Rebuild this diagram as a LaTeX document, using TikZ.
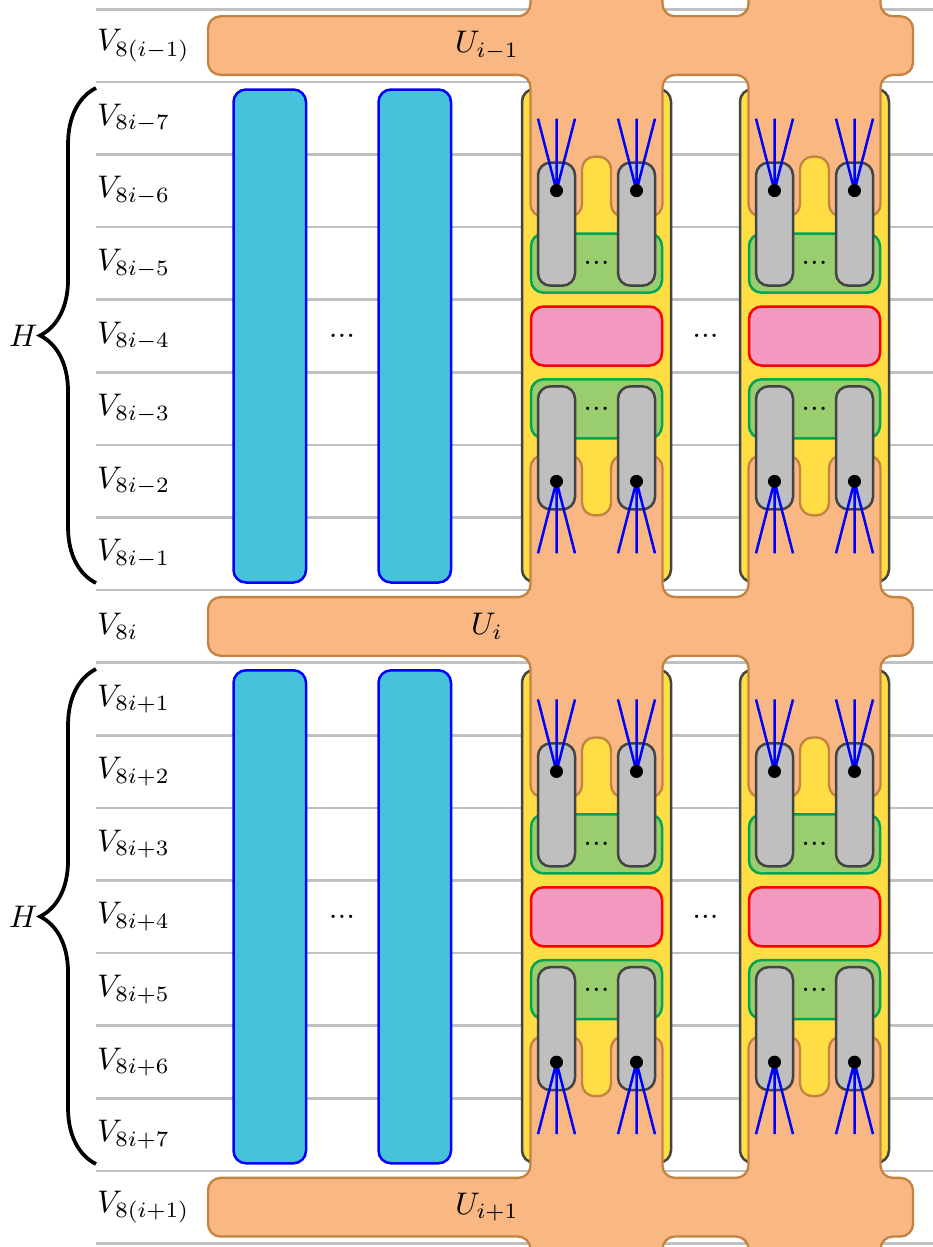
\documentclass[tikz,border=0pt]{standalone}
\usetikzlibrary{decorations.pathreplacing}
\definecolor{orfill}{HTML}{F9B784}
\definecolor{ordraw}{HTML}{C4843F}
\definecolor{yelfill}{HTML}{FFDD44}
\definecolor{dkgray}{HTML}{444444}
\definecolor{pillfill}{HTML}{BFBFBF}
\definecolor{grfill}{HTML}{9ACD6E}
\definecolor{grdraw}{HTML}{00A651}
\definecolor{pkfill}{HTML}{F49AC1}
\definecolor{cyanfill}{HTML}{46C2DC}
\definecolor{linegray}{HTML}{C0C0C0}
% orange column going up from a bar (gadget centre x, bar top y, finger top y)
\newcommand\colsUp[3]{-- ({#1-66},#2) -- ({#1-66},#3) -- ({#1-14.5},#3) -- ({#1-14.5},{#3+60}) -- ({#1+14.5},{#3+60}) -- ({#1+14.5},#3) -- ({#1+66},#3) -- ({#1+66},#2)}
% orange column going down from a bar (gadget centre x, bar bottom y, finger bottom y), traversed right to left
\newcommand\colsDown[3]{-- ({#1+66},#2) -- ({#1+66},#3) -- ({#1+14.5},#3) -- ({#1+14.5},{#3-60}) -- ({#1-14.5},{#3-60}) -- ({#1-14.5},#3) -- ({#1-66},#3) -- ({#1-66},#2)}
\newcommand\colsTop[2]{-- ({#1-66},#2) -- ({#1-66},-40) -- ({#1+66},-40) -- ({#1+66},#2)}
\newcommand\colsBot[2]{-- ({#1+66},#2) -- ({#1+66},1290) -- ({#1-66},1290) -- ({#1-66},#2)}
% inside of a gadget: x centre, y centre of block, name suffix
\newcommand\gadgetinner[3]{%
  \draw[grnbox] ({#1-65.5},{#2-102.35}) rectangle ({#1+65.5},{#2-43.35});
  \draw[grnbox] ({#1-65.5},{#2+43.35}) rectangle ({#1+65.5},{#2+102.35});
  \draw[pnkbox] ({#1-65.5},{#2-29.5}) rectangle ({#1+65.5},{#2+29.5});
  \node[dotlbl] (gu#3) at (#1,{#2-72.85}) {...};
  \node[dotlbl] (gl#3) at (#1,{#2+72.85}) {...};
  \foreach \dx in {-40,40} {
    \draw[pillbox] ({#1+\dx-18.5},{#2-173.35}) rectangle ({#1+\dx+18.5},{#2-50.35});
    \draw[pillbox] ({#1+\dx-18.5},{#2+50.35}) rectangle ({#1+\dx+18.5},{#2+173.35});
    \draw[fanline] ({#1+\dx-18.5},{#2-217.35}) -- ({#1+\dx},{#2-145.35}) -- ({#1+\dx+18.5},{#2-217.35})
                   ({#1+\dx},{#2-145.35}) -- ({#1+\dx},{#2-217.35});
    \draw[fanline] ({#1+\dx-18.5},{#2+217.35}) -- ({#1+\dx},{#2+145.35}) -- ({#1+\dx+18.5},{#2+217.35})
                   ({#1+\dx},{#2+145.35}) -- ({#1+\dx},{#2+217.35});
    \fill ({#1+\dx},{#2-145.35}) circle (6.5);
    \fill ({#1+\dx},{#2+145.35}) circle (6.5);
  }%
}
\begin{document}
\begin{tikzpicture}[x=0.32pt,y=-0.32pt,
  hline/.style={draw=linegray,line width=0.8pt},
  cyanbox/.style={fill=cyanfill,draw=blue,line width=0.8pt,rounded corners=4pt},
  yelbox/.style={fill=yelfill,draw=dkgray,line width=0.8pt,rounded corners=4pt},
  orng/.style={fill=orfill,draw=ordraw,line width=0.75pt,rounded corners=4pt},
  grnbox/.style={fill=grfill,draw=grdraw,line width=0.8pt,rounded corners=4pt},
  pnkbox/.style={fill=pkfill,draw=red,line width=0.8pt,rounded corners=4pt},
  pillbox/.style={fill=pillfill,draw=dkgray,line width=0.8pt,rounded corners=4pt},
  fanline/.style={draw=blue,line width=0.8pt},
  lbl/.style={anchor=west,inner sep=0pt},
  dotlbl/.style={inner sep=0pt},
  bracestyle/.style={decorate,decoration={brace,amplitude=17.9pt},line width=1.2pt},
]
\useasboundingbox (0,0) rectangle (933,1247);
\clip (0,0) rectangle (933,1247);

% horizontal row lines
\foreach \k in {0,...,17}
  \draw[hline] (96,{9.3+72.6*\k}) -- (933,{9.3+72.6*\k});

% cyan columns and yellow gadgets
\foreach \c in {336.0,916.8} {
  \draw[cyanbox] (233.5,{\c-246.5}) rectangle (306,{\c+246.5});
  \draw[cyanbox] (378.5,{\c-246.5}) rectangle (451,{\c+246.5});
  \draw[yelbox] (522,{\c-247}) rectangle (671,{\c+246});
  \draw[yelbox] (740,{\c-247}) rectangle (889,{\c+246});
}

% orange U shapes
\draw[orng] (208,45.6) -- (208,16.3) \colsTop{596.5}{16.3} \colsTop{814.5}{16.3} -- (913,16.3) -- (913,74.9)
   \colsDown{814.5}{74.9}{216.65} \colsDown{596.5}{74.9}{216.65} -- (208,74.9) -- cycle;
\draw[orng] (208,626.4) -- (208,597.1) \colsUp{596.5}{597.1}{455.35} \colsUp{814.5}{597.1}{455.35} -- (913,597.1) -- (913,655.7)
   \colsDown{814.5}{655.7}{797.45} \colsDown{596.5}{655.7}{797.45} -- (208,655.7) -- cycle;
\draw[orng] (208,1207.2) -- (208,1177.9) \colsUp{596.5}{1177.9}{1036.15} \colsUp{814.5}{1177.9}{1036.15} -- (913,1177.9) -- (913,1236.5)
   \colsBot{814.5}{1236.5} \colsBot{596.5}{1236.5} -- (208,1236.5) -- cycle;

% gadget interiors
\gadgetinner{596.5}{336.0}{a}
\gadgetinner{814.5}{336.0}{b}
\gadgetinner{596.5}{916.8}{c}
\gadgetinner{814.5}{916.8}{d}

% ellipses between columns
\node[dotlbl] (e1) at (342,336.0) {...};
\node[dotlbl] (e2) at (705.5,336.0) {...};
\node[dotlbl] (e3) at (342,916.8) {...};
\node[dotlbl] (e4) at (705.5,916.8) {...};

% U labels
\node (u0) at (487,45.6) {$U_{i-1}$};
\node (u1) at (487,626.4) {$U_{i}$};
\node (u2) at (487,1207.2) {$U_{i+1}$};

% row labels
\node[lbl] (v0) at (96.5,45.6) {$V_{8(i-1)}$};
\node[lbl] (v1) at (96.5,118.2) {$V_{8i-7}$};
\node[lbl] (v2) at (96.5,190.8) {$V_{8i-6}$};
\node[lbl] (v3) at (96.5,263.4) {$V_{8i-5}$};
\node[lbl] (v4) at (96.5,336.0) {$V_{8i-4}$};
\node[lbl] (v5) at (96.5,408.6) {$V_{8i-3}$};
\node[lbl] (v6) at (96.5,481.2) {$V_{8i-2}$};
\node[lbl] (v7) at (96.5,553.8) {$V_{8i-1}$};
\node[lbl] (v8) at (96.5,626.4) {$V_{8i}$};
\node[lbl] (v9) at (96.5,699.0) {$V_{8i+1}$};
\node[lbl] (v10) at (96.5,771.6) {$V_{8i+2}$};
\node[lbl] (v11) at (96.5,844.2) {$V_{8i+3}$};
\node[lbl] (v12) at (96.5,916.8) {$V_{8i+4}$};
\node[lbl] (v13) at (96.5,989.4) {$V_{8i+5}$};
\node[lbl] (v14) at (96.5,1062.0) {$V_{8i+6}$};
\node[lbl] (v15) at (96.5,1134.6) {$V_{8i+7}$};
\node[lbl] (v16) at (96.5,1207.2) {$V_{8(i+1)}$};

% braces
\draw[bracestyle] (96,583) -- (96,88);
\draw[bracestyle] (96,1164) -- (96,669);
\node (h1) at (23.5,336.0) {$H$};
\node (h2) at (23.5,916.8) {$H$};
\end{tikzpicture}
\end{document}
